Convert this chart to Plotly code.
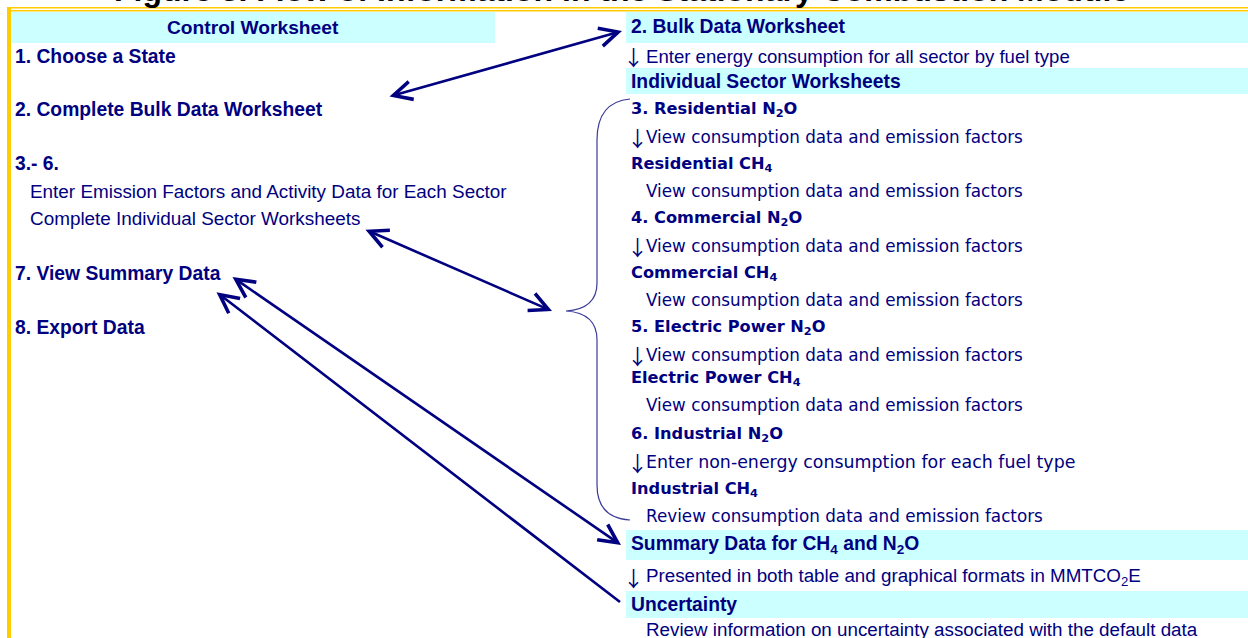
import plotly.graph_objects as go

# ---------------- text content ----------------
TITLE = "Figure 3. Flow of Information in the Stationary Combustion Module"

CONTROL_HEADER = "Control Worksheet"
LEFT_STEPS = ["1. Choose a State", "2. Complete Bulk Data Worksheet", "3.- 6.",
              "7. View Summary Data", "8. Export Data"]
LEFT_NOTES = ["Enter Emission Factors and Activity Data for Each Sector",
              "Complete Individual Sector Worksheets"]

BOX_HEADERS = ["2. Bulk Data Worksheet", "Individual Sector Worksheets",
               "Summary Data for CH<sub>4</sub> and N<sub>2</sub>O", "Uncertainty"]
BOX_NOTES = ["Enter energy consumption for all sector by fuel type",
             "Presented in both table and graphical formats in MMTCO<sub>2</sub>E",
             "Review information on uncertainty associated with the default data"]
BOX_NOTE_ARROW = [True, True, False]

SECTOR_HEADINGS = ["3. Residential N<sub>2</sub>O", "Residential CH<sub>4</sub>",
                   "4. Commercial N<sub>2</sub>O", "Commercial CH<sub>4</sub>",
                   "5. Electric Power N<sub>2</sub>O", "Electric Power CH<sub>4</sub>",
                   "6. Industrial N<sub>2</sub>O", "Industrial CH<sub>4</sub>"]
SECTOR_NOTES = ["View consumption data and emission factors",
                "View consumption data and emission factors",
                "View consumption data and emission factors",
                "View consumption data and emission factors",
                "View consumption data and emission factors",
                "View consumption data and emission factors",
                "Enter non-energy consumption for each fuel type",
                "Review consumption data and emission factors"]
SECTOR_NOTE_ARROW = [True, False, True, False, True, False, True, False]

# ---------------- layout (pixel coordinates) ----------------
W, H = 1248, 638
NAVY = "#000080"
CYAN = "#CCFFFF"
GOLD = "#FFCC00"
SANS = "Liberation Sans, Arial, sans-serif"
WIDE = "DejaVu Sans, Verdana, sans-serif"
ARROW_FONT = "Noto Sans CJK JP, Liberation Sans, sans-serif"

LEFT_STEP_Y = [56, 109, 163, 273, 327]
LEFT_NOTE_Y = [191, 218]
BOX_Y = [(12, 43), (68, 94), (530, 560), (591, 618)]
BOX_HEADER_Y = [26, 81, 545, 604]
BOX_NOTE_Y = [56, 577, 629]
BOX_NOTE_SIZE = [18.6, 18.8, 18.8]
SECTOR_HEAD_Y = [109, 164, 218, 273, 327, 378, 434, 489]
SECTOR_NOTE_Y = [137, 191, 246, 300, 355, 405, 462, 516]
SECTOR_NOTE_SIZE = [16.8, 16.8, 16.8, 16.8, 16.8, 16.8, 17.4, 16.8]

ARROWS = [  # (tail, tip, side)
    ((388, 97), (622, 31), "end+start"),
    ((364, 229), (552, 311), "end+start"),
    ((231, 276), (621, 545), "end+start"),
    ((215, 291), (620, 602), "start"),
]

fig = go.Figure()
shapes = []
ann = []

# cyan header boxes
shapes.append(dict(type="rect", x0=11, x1=495, y0=12, y1=43, fillcolor=CYAN,
                   line=dict(width=0), layer="below"))
for (y0, y1) in BOX_Y:
    shapes.append(dict(type="rect", x0=626, x1=W, y0=y0, y1=y1, fillcolor=CYAN,
                       line=dict(width=0), layer="below"))

# gold frame
shapes.append(dict(type="rect", x0=7, x1=11, y0=7, y1=H, fillcolor=GOLD, line=dict(width=0)))
shapes.append(dict(type="rect", x0=7, x1=W, y0=7, y1=8.5, fillcolor=GOLD, line=dict(width=0)))
shapes.append(dict(type="rect", x0=7, x1=W, y0=10, y1=11.5, fillcolor=GOLD, line=dict(width=0)))

# brace
shapes.append(dict(type="path",
                   path="M 630 99 Q 597 102 597 140 L 597 283 Q 597 309 566 311 "
                        "Q 597 313 597 340 L 597 485 Q 597 518 630 520",
                   line=dict(color="#3a3a9a", width=1.2)))


def txt(x, y, s, size, family, color=NAVY, xanchor="left", bold=False):
    if bold:
        s = "<b>" + s + "</b>"
    ann.append(dict(x=x, y=y, xref="x", yref="y", text=s, showarrow=False,
                    xanchor=xanchor, yanchor="middle",
                    font=dict(size=size, family=family, color=color)))


# title (clipped at top of the page)
ann.append(dict(x=621, xref="x", y=1 + 10.0 / H, yref="paper", text="<b>" + TITLE + "</b>",
                showarrow=False, xanchor="center", yanchor="middle",
                font=dict(size=32, family=SANS, color="#000000")))

# left column
txt(253, 27, CONTROL_HEADER, 19.2, SANS, xanchor="center", bold=True)
for s, y in zip(LEFT_STEPS, LEFT_STEP_Y):
    txt(13, y, s, 19.3, SANS, bold=True)
for s, y in zip(LEFT_NOTES, LEFT_NOTE_Y):
    txt(28, y, s, 18.9, SANS)

# right column boxes
for s, y in zip(BOX_HEADERS, BOX_HEADER_Y):
    txt(629, y, s, 19.3, SANS, bold=True)
for s, y, a, fs in zip(BOX_NOTES, BOX_NOTE_Y, BOX_NOTE_ARROW, BOX_NOTE_SIZE):
    if a:
        txt(633, y, "↓", 21, ARROW_FONT, xanchor="center")
    txt(644, y, s, fs, SANS)

# sector worksheets
for s, y in zip(SECTOR_HEADINGS, SECTOR_HEAD_Y):
    txt(629, y, s, 16.2, WIDE, bold=True)
for s, y, a, fs in zip(SECTOR_NOTES, SECTOR_NOTE_Y, SECTOR_NOTE_ARROW, SECTOR_NOTE_SIZE):
    if a:
        txt(637, y, "↓", 21, ARROW_FONT, xanchor="center")
    txt(644, y, s, fs, WIDE)

# arrows
for (tail, tip, side) in ARROWS:
    ann.append(dict(x=tip[0], y=tip[1], ax=tail[0], ay=tail[1], xref="x", yref="y",
                    axref="x", ayref="y", text="", showarrow=True, arrowside=side,
                    arrowhead=5, arrowsize=1.4, arrowwidth=2.6, arrowcolor=NAVY,
                    standoff=0, startstandoff=0, startarrowhead=5, startarrowsize=1.4))

fig.update_layout(
    width=W, height=H, autosize=False,
    margin=dict(l=0, r=0, t=0, b=0),
    paper_bgcolor="white", plot_bgcolor="white",
    xaxis=dict(range=[0, W], visible=False, fixedrange=True),
    yaxis=dict(range=[H, 0], visible=False, fixedrange=True),
    shapes=shapes, annotations=ann, showlegend=False,
)
fig.write_html("out.html", config={"displayModeBar": False},
               post_script="document.body.style.margin='0px';document.body.style.overflow='hidden';")
